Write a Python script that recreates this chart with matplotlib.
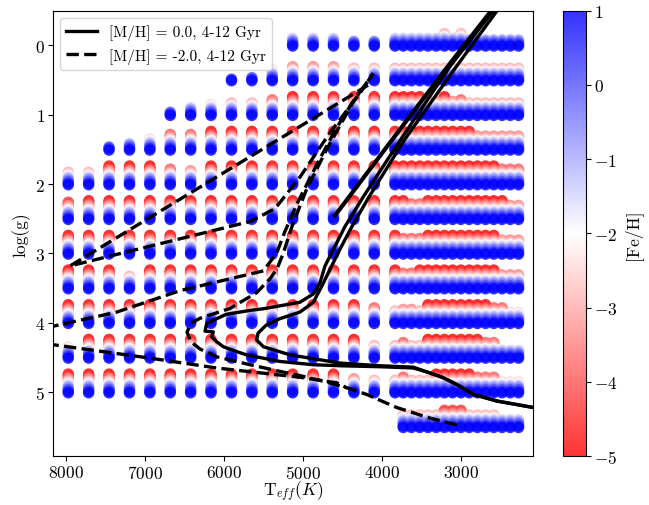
import numpy as np
import matplotlib.pyplot as plt

plt.rcParams['font.family'] = 'serif'
plt.rcParams['font.serif'] = ['cmr10']
plt.rcParams['mathtext.fontset'] = 'cm'
plt.rcParams['axes.formatter.use_mathtext'] = True

# grid of the spectral library
feh_values = [-5.0, -4.5, -4.0, -3.5, -3.0, -2.5, -2.0, -1.5, -1.0, -0.5, 0.0, 0.5, 1.0]
teff_hot = [7975, 7717, 7459, 7200, 6942, 6684, 6426, 6168, 5909, 5651, 5393, 5135, 4876, 4618, 4360, 4102]
teff_cool = [3839, 3735, 3631, 3526, 3422, 3318, 3214, 3110, 3005, 2901, 2797, 2693, 2589, 2484, 2380, 2276]
logg_hot = [0.0, 0.5, 1.0, 1.5, 2.0, 2.5, 3.0, 3.5, 4.0, 4.5, 5.0]
logg_cool = [0.0, 0.5, 1.0, 1.5, 2.0, 2.5, 3.0, 3.5, 4.0, 4.5, 5.0, 5.5]

N = None
# lowest [Fe/H] available at each grid point (rows = logg, cols = teff)
feh_min_hot = [
    [N, N, N, N, N, N, N, N, N, N, N, -1.5, -1.5, -1.5, -0.5, -0.5],
    [N, N, N, N, N, N, N, N, 0.5, 0.0, -2.5, -3.5, -3.5, -3.5, -3.0, -3.0],
    [N, N, N, N, N, 0.0, -1.5, -2.5, -3.0, -3.0, -4.0, -5, -5, -5, -5, -5],
    [N, N, 0.0, -1.0, -2.5, -4.0, -4.0, -5, -5, -5, -5, -5, -5, -5, -5, -5],
    [-3.0, -3.0, -5, -5, -5, -4.0, -3.5, -5, -5, -5, -5, -5, -5, -5, -5, -5],
    [-4.5, -5, -5, -5, -5, -5, -5, -5, -5, -5, -5, -5, -5, -5, -5, -5],
    [-5, -5, -5, -5, -5, -5, -5, -5, -5, -5, -5, -5, -5, -5, -5, -5],
    [-5, -5, -5, -3.0, -5, -5, -5, -5, -5, -5, -5, -5, -5, -5, -5, -5],
    [-5, -5, -5, -5, -5, -5, -5, -5, -5, -5, -5, -5, -5, -5, -5, -4.0],
    [-2.5, -5, -5, -5, -5, -5, -5, -5, -5, -5, -5, -5, -5, -5, -5, -3.0],
    [-5, -5, -5, -5, -5, -5, -5, -5, -5, -5, -5, -5, -5, -5, -3.5, -3.0],
]
feh_min_cool = [
    [-1.5, -1.5, -1.5, -1.5, -1.5, -1.5, -3.0, -1.5, -3.0, -1, -1, -1, -1, -1, -1, -1],
    [-3, -3, -3, -3, -3, -3, -3, -3, -3, -3, -3, -3, -3, -3, -3, -3],
    [-5, -5, -5, -5, -3.5, -3.5, -5, -3.5, -4, -3, -3, -3, -3, -3, -3, -3],
    [-5, -5, -5, -5, -5, -5, -5, -5, -5, -5, -3.5, -3.5, -3.5, -3.5, -3.5, -3.5],
    [-5, -5, -5, -5, -5, -5, -5, -5, -5, -5, -5, -5, -5, -4, -4, -4],
    [-5, -5, -4, -4, -5, -5, -5, -5, -5, -5, -5, -5, -5, -5, -3.5, -3.5],
    [-5, -4, -4, -4, -5, -5, -5, -5, -5, -5, -5, -5, -5, -3.5, -3.5, -3.5],
    [-5, -4, -4, -5, -5, -5, -5, -5, -5, -5, -5, -5, -5, -3.5, -3.5, -3.5],
    [-3, -3.5, -3.5, -3, -5, -5, -5, -5, -5, -5, -5, -5, -4, -4, -2.5, -2.5],
    [-3, -4, -3, -3, -5, -5, -5, -5, -5, -5, -5, -4, -4, -2, -2, -2],
    [-3, -4, -3, -3, -3, -5, -5, -5, -5, -5, -4, -4, -4, -2.5, -2.5, -2.5],
    [N, -3, -3, -3, -3, -3, -4.5, -4.5, -4.5, -3, -3, -3, -3, -1.5, -1.5, -1.5],
]

# isochrones, [M/H] = 0.0
solid_a_teff = [2004, 2089, 2552, 2848, 3058, 3232, 3396, 3608, 4029, 4536, 4873, 5295, 5717, 5843,
                6013, 6096, 6160, 6139, 6244, 6223, 5979, 5675, 5506, 5042, 4873, 4789, 4725, 4620,
                4472, 4241, 3776, 3143, 2595, 2510]
solid_a_logg = [5.246, 5.222, 5.128, 5.033, 4.890, 4.791, 4.724, 4.652, 4.634, 4.620, 4.605, 4.558,
                4.463, 4.416, 4.345, 4.274, 4.202, 4.131, 4.121, 4.011, 3.879, 3.822, 3.798, 3.704,
                3.584, 3.423, 3.181, 2.943, 2.611, 2.184, 1.372, 0.303, -0.499, -0.637]
solid_b_teff = [2004, 2089, 2552, 2848, 3058, 3232, 3396, 3608, 4029, 4536, 5168, 5506, 5590, 5573,
                5472, 5295, 5042, 4873, 4763, 4641, 4536, 4384, 4168, 3725, 3080, 2548, 2472]
solid_b_logg = [5.246, 5.222, 5.128, 5.033, 4.890, 4.791, 4.724, 4.640, 4.620, 4.581, 4.463, 4.345,
                4.249, 4.150, 4.036, 3.940, 3.846, 3.704, 3.466, 3.181, 2.939, 2.611, 2.184, 1.372,
                0.332, -0.499, -0.623]
solid_c_teff = [4599, 3776, 3143, 2586]
solid_c_logg = [2.454, 1.211, 0.261, -0.551]

# isochrones, [M/H] = -2.0
dash_a_teff = [3058, 3396, 3818, 4029, 4198, 4451, 4747, 5042, 5295, 5675, 6096, 6308, 6422, 6472,
               6422, 6308, 5928, 5590, 5422, 5333, 5253, 5143, 4957, 4704, 4536, 4367, 4114]
dash_a_logg = [5.474, 5.375, 5.222, 5.118, 5.033, 4.937, 4.843, 4.762, 4.701, 4.605, 4.491, 4.378,
               4.274, 4.135, 4.007, 3.936, 3.793, 3.566, 3.366, 3.224, 2.996, 2.611, 2.070, 1.500,
               1.158, 0.816, 0.403]
dash_b_teff = [8250, 6941, 6096, 5042, 4577, 4451]
dash_b_logg = [4.303, 4.510, 4.652, 4.786, 4.866, 4.937]
dash_c_teff = [8250, 7362, 6561, 5506, 5337, 5232, 5067, 4814, 4599, 4384, 4130]
dash_c_logg = [4.071, 3.846, 3.537, 3.252, 2.996, 2.682, 2.255, 1.685, 1.229, 0.830, 0.432]
dash_d_teff = [4181, 7953, 5675, 5358, 5042, 4662, 4282, 4114]
dash_d_logg = [0.574, 3.181, 2.540, 2.355, 1.899, 1.258, 0.688, 0.403]


def grid_points(teffs, loggs, feh_min):
    xs, ys, cs = [], [], []
    for fe in feh_values:
        for r, g in enumerate(loggs):
            for k, t in enumerate(teffs):
                lo = feh_min[r][k]
                if lo is None or fe < lo:
                    continue
                xs.append(t)
                # stack the metallicities a little in log(g) so they show
                ys.append(g + 0.045 * fe - 0.035)
                cs.append(fe)
    return xs, ys, cs


xh, yh, ch = grid_points(teff_hot, logg_hot, feh_min_hot)
xc, yc, cc = grid_points(teff_cool, logg_cool, feh_min_cool)
x = xh + xc
y = yh + yc
c = ch + cc
order = np.argsort(c, kind='stable')
x = np.array(x)[order]
y = np.array(y)[order]
c = np.array(c)[order]

fig = plt.figure(figsize=(6.49, 5.06), dpi=100)
ax = fig.add_axes([0.0812, 0.097, 0.7405, 0.8799])
cax = fig.add_axes([0.868, 0.097, 0.035, 0.8799])

sc = ax.scatter(x, y, c=c, cmap='bwr_r', vmin=-5, vmax=1, s=68, alpha=0.8,
                linewidths=0, zorder=1)

lw = 2.4
ax.plot(solid_a_teff, solid_a_logg, color='black', lw=lw, zorder=3,
        label='[M/H] = 0.0, 4-12 Gyr')
ax.plot(solid_b_teff, solid_b_logg, color='black', lw=lw, zorder=3)
ax.plot(solid_c_teff, solid_c_logg, color='black', lw=lw + 0.6, zorder=3)
ax.plot(dash_a_teff, dash_a_logg, color='black', lw=lw, ls='--', zorder=3,
        label='[M/H] = -2.0, 4-12 Gyr')
ax.plot(dash_b_teff, dash_b_logg, color='black', lw=lw, ls='--', zorder=3)
ax.plot(dash_c_teff, dash_c_logg, color='black', lw=lw, ls='--', zorder=3)
ax.plot(dash_d_teff, dash_d_logg, color='black', lw=lw, ls='--', zorder=3)

ax.set_xlim(8172, 2089)
ax.set_ylim(5.92, -0.5)
ax.set_xticks([8000, 7000, 6000, 5000, 4000, 3000])
ax.set_yticks([0, 1, 2, 3, 4, 5])
ax.tick_params(labelsize=12.5, pad=2)
ax.set_xlabel(r'T$_{eff}(K)$', fontsize=12.5, labelpad=-1)
ax.set_ylabel('log(g)', fontsize=12.5, labelpad=3)
ax.legend(loc='upper left', fontsize=11, handlelength=2.0)

cb = fig.colorbar(sc, cax=cax)
cb.set_ticks([1, 0, -1, -2, -3, -4, -5])
cb.ax.tick_params(labelsize=12.5, pad=2.5)
cb.set_label('[Fe/H]', fontsize=12.5, labelpad=4)

fig.savefig('out.png', dpi=100)
